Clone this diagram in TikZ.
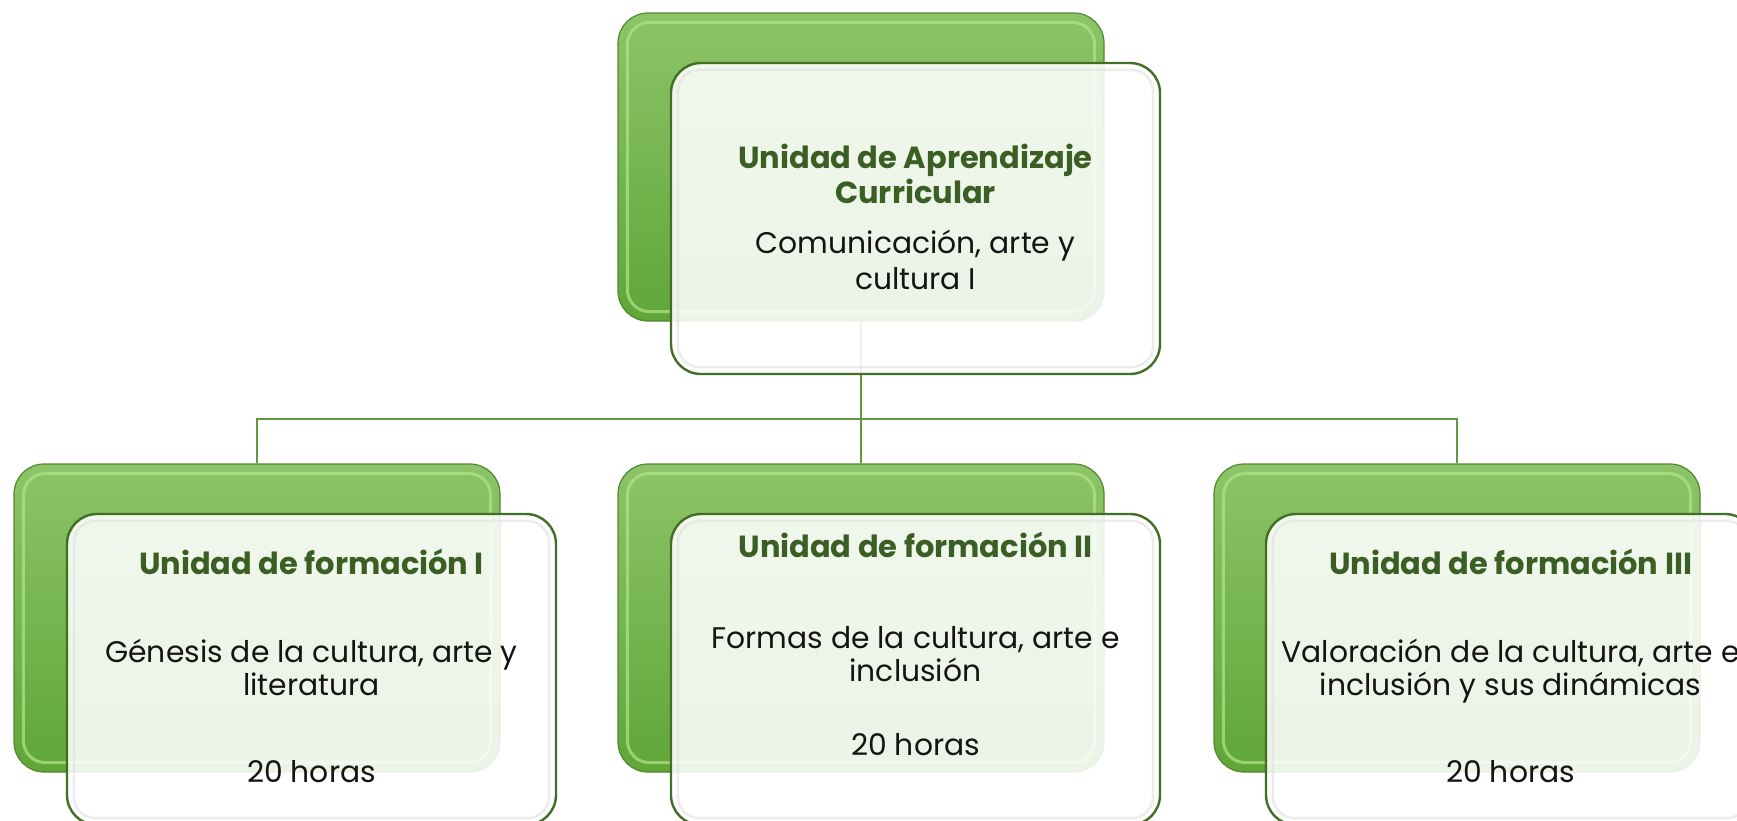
\documentclass[tikz,border=0pt]{standalone}
\usepackage{fontspec}
\setmainfont{Poppins}
\usetikzlibrary{positioning}
\definecolor{gtop}{RGB}{140,196,104}
\definecolor{gbot}{RGB}{96,166,56}
\definecolor{gedge}{RGB}{82,136,48}
\definecolor{ghl}{RGB}{178,228,140}
\definecolor{fedge}{RGB}{66,110,38}
\definecolor{titlegreen}{RGB}{58,94,36}
\definecolor{linkgreen}{RGB}{100,152,62}
\tikzset{
  greenbox/.style={rectangle, rounded corners=30pt, draw=gedge, line width=1.2pt,
    top color=gtop, bottom color=gbot, minimum width=486pt, minimum height=308pt, inner sep=0pt},
  frontbox/.style={rectangle, rounded corners=30pt, draw=fedge, line width=2.4pt,
    fill=white, fill opacity=0.88, minimum width=489pt, minimum height=311pt, inner sep=0pt},
  titletext/.style={anchor=base, inner sep=0pt, text=titlegreen, font=\fontsize{30.5}{36}\selectfont\bfseries},
  bodytext/.style={anchor=base, inner sep=0pt, text=black!92, font=\fontsize{29.8}{36}\selectfont},
  link/.style={draw=linkgreen, line width=2.6pt},
}
\begin{document}
\begin{tikzpicture}[x=1pt,y=-1pt]
\useasboundingbox (0,0) rectangle (1737,820);
\begin{scope}
\clip (0,0) rectangle (1737,820);
% back green boxes
\node[greenbox] (topback) at (861,167) {};
\node[greenbox] (b1back) at (257,618) {};
\node[greenbox] (b2back) at (861,618) {};
\node[greenbox] (b3back) at (1457,618) {};
% glossy highlights
\foreach \n in {topback,b1back,b2back,b3back}{
  \draw[ghl, line width=3pt, opacity=0.7, rounded corners=22pt]
    ([xshift=10pt,yshift=-10pt]\n.north west) rectangle ([xshift=-10pt,yshift=10pt]\n.south east);
}
% connectors
\coordinate (bus) at (861,419);
\draw[link] (topback.south) -- (bus);
\draw[link] (b1back.north) |- (bus) -| (b3back.north);
\draw[link] (bus) -- (b2back.north);
% front boxes
\node[frontbox] (topfront) at (915.5,218.5) {};
\node[frontbox] (b1front) at (311.5,669.5) {};
\node[frontbox] (b2front) at (915.5,669.5) {};
\node[frontbox] (b3front) at (1510.5,669.5) {};
\foreach \n in {topfront,b1front,b2front,b3front}{
  \draw[black!12, line width=2.5pt, opacity=0.6, rounded corners=22pt]
    ([xshift=8pt,yshift=-8pt]\n.north west) rectangle ([xshift=-8pt,yshift=8pt]\n.south east);
}
\end{scope}
% texts
\node[titletext] (t0a) at (915.5,168) {Unidad de Aprendizaje};
\node[titletext] (t0b) at (915.5,203) {Curricular};
\node[bodytext] (t0c) at (915.5,253) {Comunicación, arte y};
\node[bodytext] (t0d) at (915.5,289) {cultura I};

\node[titletext] (t1a) at (311.5,574) {Unidad de formación I};
\node[bodytext] (t1b) at (311.5,662) {Génesis de la cultura, arte y};
\node[bodytext] (t1c) at (311.5,695) {literatura};
\node[bodytext] (t1d) at (311.5,782) {20 horas};

\node[titletext] (t2a) at (915.5,557) {Unidad de formación II};
\node[bodytext] (t2b) at (915.5,648) {Formas de la cultura, arte e};
\node[bodytext] (t2c) at (915.5,681) {inclusión};
\node[bodytext] (t2d) at (915.5,755) {20 horas};

\node[titletext] (t3a) at (1510.5,574) {Unidad de formación III};
\node[bodytext] (t3b) at (1510.5,662) {Valoración de la cultura, arte e};
\node[bodytext] (t3c) at (1510.5,695) {inclusión y sus dinámicas};
\node[bodytext] (t3d) at (1510.5,782) {20 horas};
\end{tikzpicture}
\end{document}
